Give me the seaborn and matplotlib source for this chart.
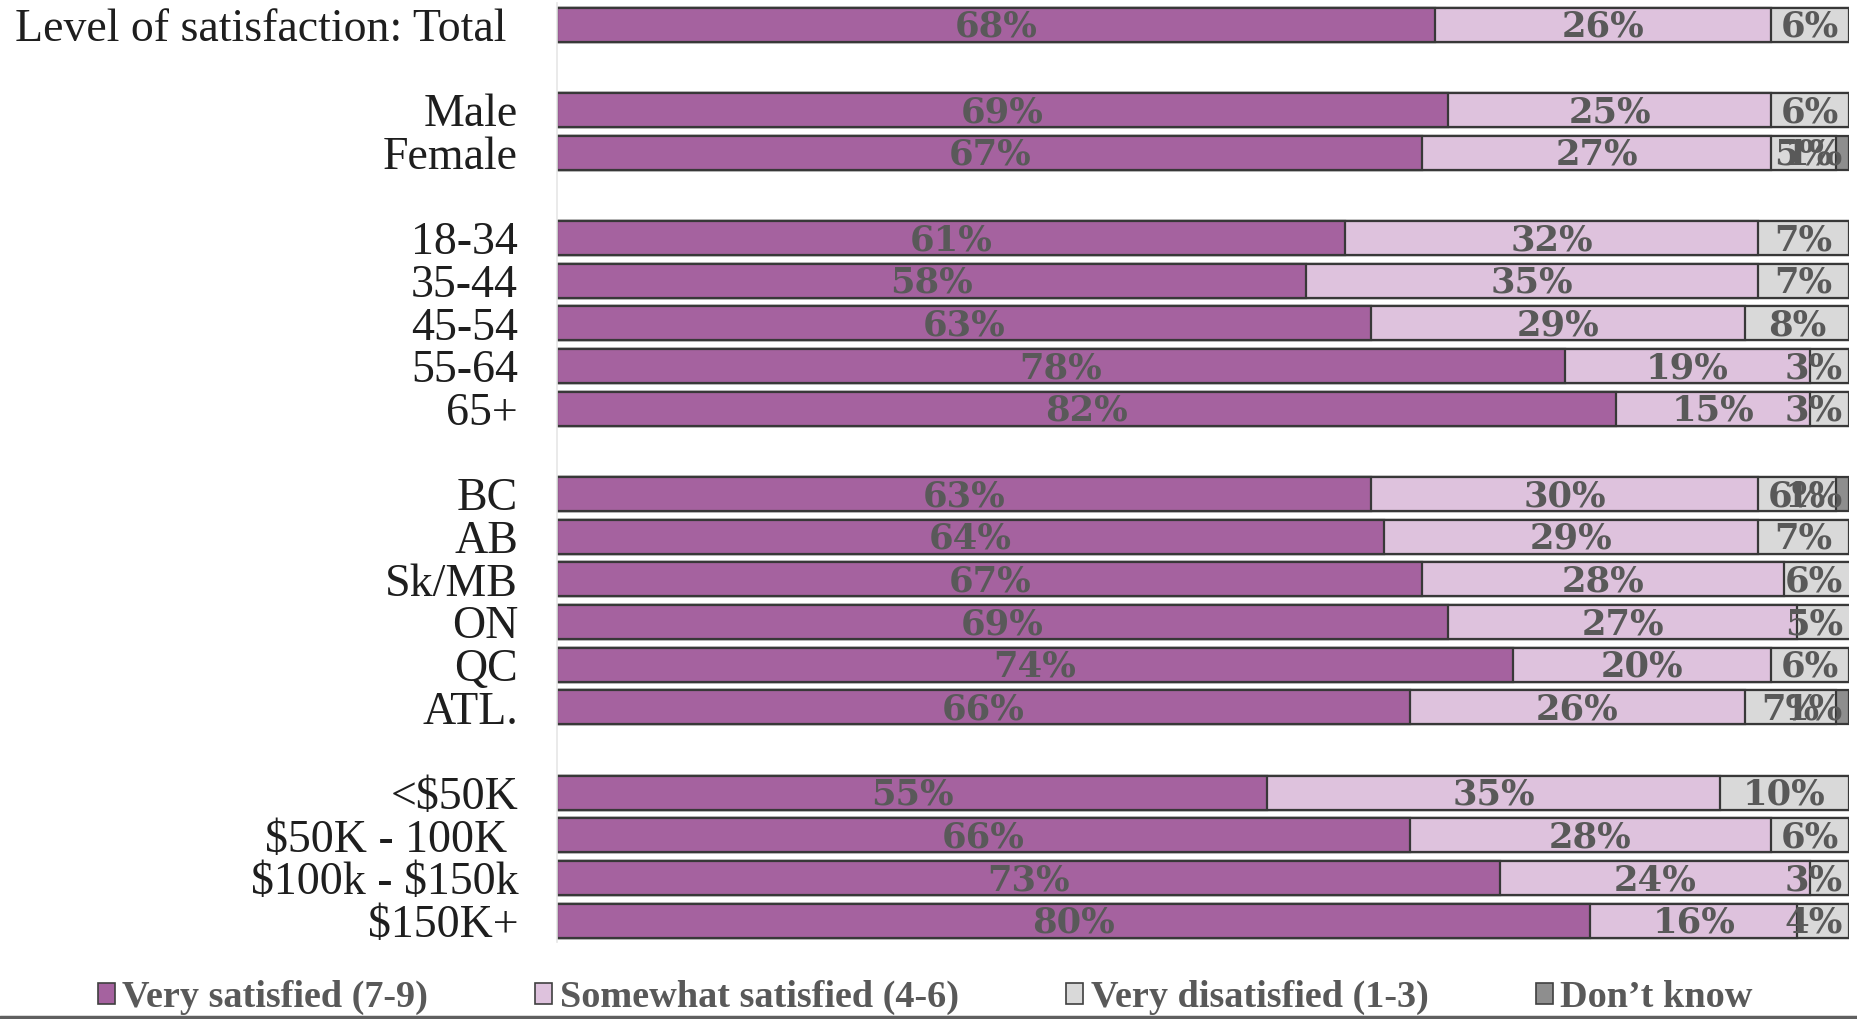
import numpy as np
import pandas as pd
import matplotlib
matplotlib.use("Agg")
import matplotlib.pyplot as plt
import seaborn as sns
from matplotlib.patches import Patch
from matplotlib.lines import Line2D
from matplotlib.font_manager import FontProperties

categories = ["Level of satisfaction: Total ", " ", "Male", "Female", "  ",
              "18-34", "35-44", "45-54", "55-64", "65+", "   ",
              "BC", "AB", "Sk/MB", "ON", "QC", "ATL.", "    ",
              "<$50K", "$50K - 100K ", "$100k - $150k", "$150K+"]
very_satisfied = [68, np.nan, 69, 67, np.nan, 61, 58, 63, 78, 82, np.nan,
                  63, 64, 67, 69, 74, 66, np.nan, 55, 66, 73, 80]
somewhat_satisfied = [26, np.nan, 25, 27, np.nan, 32, 35, 29, 19, 15, np.nan,
                      30, 29, 28, 27, 20, 26, np.nan, 35, 28, 24, 16]
very_dissatisfied = [6, np.nan, 6, 5, np.nan, 7, 7, 8, 3, 3, np.nan,
                     6, 7, 6, 5, 6, 7, np.nan, 10, 6, 3, 4]
dont_know = [0, np.nan, 0, 1, np.nan, 0, 0, 0, 0, 0, np.nan,
             1, 0, 0, 0, 0, 1, np.nan, 0, 0, 0, 0]
series_names = ["Very satisfied (7-9)", "Somewhat satisfied (4-6)",
                "Very disatisfied (1-3)", "Don\u2019t know"]
colors = ["#A5629F", "#DEC2DD", "#D9D9D9", "#8E8E8E"]

sns.set_theme(style="white")
plt.rcParams['font.family'] = ['DejaVu Serif']
plt.rcParams['text.parse_math'] = False

df = pd.DataFrame({"cat": categories, "v1": very_satisfied, "v2": somewhat_satisfied,
                   "v3": very_dissatisfied, "v4": dont_know})
df["c1"] = df["v1"]
df["c2"] = df["c1"] + df["v2"]
df["c3"] = df["c2"] + df["v3"]
df["c4"] = df["c3"] + df["v4"]

fig = plt.figure(figsize=(18.58, 10.19), dpi=100)
ax = fig.add_axes([0.2998, 0.0756, 0.6952, 0.921])

edge = "#383838"
for col, c in zip(["c4", "c3", "c2", "c1"], colors[::-1]):
    sns.barplot(data=df, x=col, y="cat", order=categories, orient="h", color=c,
                saturation=1, width=0.8, edgecolor=edge, linewidth=1.6,
                errorbar=None, ax=ax)

lab_font = FontProperties(family="DejaVu Serif", weight="bold", size=25.5)
max_center = 97.3  # keep labels inside the plot area
for i, row in df.iterrows():
    if np.isnan(row["v1"]):
        continue
    start = 0
    for k in range(1, 5):
        v = row[f"v{k}"]
        if v > 0:
            ax.text(min(start + v / 2, max_center), i + 0.05, f"{int(v)}%",
                    ha="center", va="center", color="#595959",
                    fontproperties=lab_font)
        start += v

ax.set_xlim(0, 100)
ax.set_ylim(len(categories) - 0.5, -0.5)
ax.set_xlabel("")
ax.set_ylabel("")
ax.set_xticks([])
ax.tick_params(axis="y", length=0, pad=28)
for t in ax.get_yticklabels():
    t.set_fontfamily("Liberation Serif")
    t.set_fontsize(33)
    t.set_color("#1E1E1E")
for s in ["top", "right", "bottom"]:
    ax.spines[s].set_visible(False)
ax.spines["left"].set_color("#E6E6E6")
ax.spines["left"].set_linewidth(1.2)

handles = [Patch(facecolor=c, edgecolor="#404040", linewidth=1.2) for c in colors]
leg = fig.legend(handles, series_names, loc="center", bbox_to_anchor=(0.498, 0.021),
                 ncol=4, frameon=False, handlelength=0.45, handleheight=0.45,
                 handletextpad=0.2, columnspacing=2.8, borderpad=0, borderaxespad=0,
                 prop=FontProperties(family="Liberation Serif", weight="bold", size=27.5))
for t in leg.get_texts():
    t.set_color("#595959")

fig.add_artist(Line2D([0, 1], [0.0015, 0.0015], color="#606060", lw=2.5,
                      transform=fig.transFigure))

fig.savefig("out.png", dpi=100)
